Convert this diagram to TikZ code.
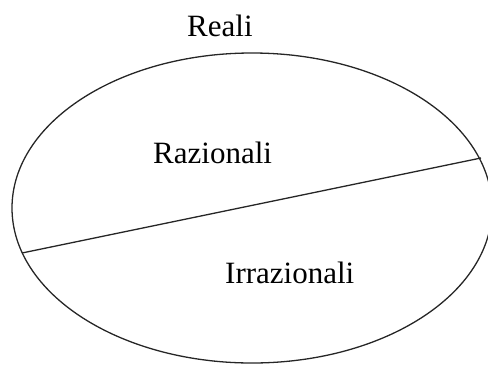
\documentclass[tikz,border=0pt]{standalone}
\usepackage{fontspec}
\setmainfont{Liberation Serif}
\usetikzlibrary{shapes.geometric}
\begin{document}
\begin{tikzpicture}[x=1pt,y=-1pt,
  lbl/.style={anchor=base west,inner sep=0pt,font=\fontsize{31}{36}\selectfont},
  line/.style={line width=1.3pt,black!85}]
\useasboundingbox (0,0) rectangle (488,365);
\node[ellipse,line,draw,minimum width=480pt,minimum height=310pt,inner sep=0pt] (reals) at (252,208) {};
\coordinate (cl) at (22,253);
\coordinate (cr) at (481,158);
\draw[line] (cl) -- (cr);
\node[lbl] (reali) at (187,36) {Reali};
\node[lbl] (raz) at (153,163) {Razionali};
\node[lbl] (irr) at (225,283) {Irrazionali};
\end{tikzpicture}
\end{document}
